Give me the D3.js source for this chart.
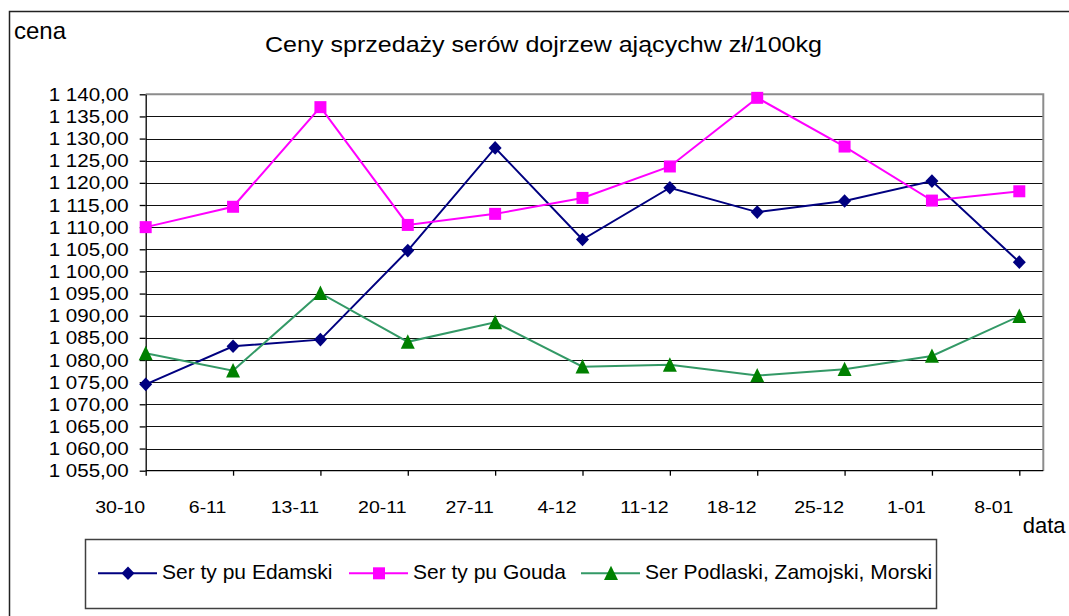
<!DOCTYPE html>
<html lang="pl">
<head>
<meta charset="utf-8">
<title>Ceny sprzedaży serów dojrzewających</title>
<style>
  body { margin: 0; background: #fff; }
  svg text { font-family: "Liberation Sans", Arial, sans-serif; fill: #000; }
  .grid line { stroke: #111; stroke-width: 1; shape-rendering: crispEdges; }
  .axis path, .axis line { stroke: #000; stroke-width: 1.3; }
  .series path.line { fill: none; stroke-width: 2; }
</style>
</head>
<body>
<div id="chart"></div>
<script src="https://cdn.jsdelivr.net/npm/d3@7"></script>
<script>
// dane
var dates = ["30-10", "6-11", "13-11", "20-11", "27-11", "4-12", "11-12", "18-12", "25-12", "1-01", "8-01"];
var edamski = [1074.5, 1083.1, 1084.6, 1104.7, 1127.9, 1107.2, 1118.9, 1113.4, 1115.9, 1120.4, 1102.1];
var gouda = [1110.0, 1114.6, 1137.1, 1110.5, 1113.0, 1116.6, 1123.7, 1139.2, 1128.2, 1116.0, 1118.1];
var podlaski = [1081.5, 1077.6, 1095.1, 1084.1, 1088.5, 1078.5, 1078.9, 1076.5, 1077.9, 1080.9, 1089.9];
var yTicks = [1055, 1060, 1065, 1070, 1075, 1080, 1085, 1090, 1095, 1100, 1105, 1110, 1115, 1120, 1125, 1130, 1135, 1140];
var seriesNames = ["Ser ty pu Edamski", "Ser ty pu Gouda", "Ser Podlaski, Zamojski, Morski"];

var W = 1069, H = 616,
    plot = {left: 145.7, right: 1043.3, top: 94.3, bottom: 470.7},
    lastX = 1019.3;

var series = [
  {name: seriesNames[0], values: edamski, line: "#000080", fill: "#000080", shape: "diamond", lx: 98},
  {name: seriesNames[1], values: gouda, line: "#ff00ff", fill: "#ff00ff", shape: "square", lx: 349},
  {name: seriesNames[2], values: podlaski, line: "#339966", fill: "#008000", shape: "triangle", lx: 581}
];

function markerPath(shape) {
  if (shape == "diamond") return "M0,-6.8L6.5,0L0,6.8L-6.5,0Z";
  if (shape == "square") return "M-6,-6H6V6H-6Z";
  return "M0,-7.6L7,6.8H-7Z";
}

var svg = d3.select("#chart").append("svg")
    .attr("width", W)
    .attr("height", H);

// ramka całego wykresu
svg.append("rect")
   .attr("x", 9.5).attr("y", 11.5)
   .attr("width", 1100).attr("height", 700)
   .attr("fill", "none")
   .attr("stroke", "#222")
   .attr("stroke-width", 1.5);

var x = d3.scalePoint().domain(dates).range([plot.left, lastX]);
var y = d3.scaleLinear().domain([1055, 1140]).range([plot.bottom, plot.top]);

var plFormat = d3.formatLocale({decimal: ",", thousands: " ", grouping: [3], currency: ["", ""]}).format(",.2f");

// linie siatki
svg.append("g").attr("class", "grid")
   .selectAll("line")
   .data(yTicks.slice(1, -1))
   .enter().append("line")
   .attr("x1", plot.left).attr("x2", plot.right)
   .attr("y1", function(d){ return Math.round(y(d)) + 0.5; })
   .attr("y2", function(d){ return Math.round(y(d)) + 0.5; });

// obramowanie obszaru wykresu (szare)
svg.append("path")
   .attr("d", "M" + plot.left + "," + plot.top + "H" + plot.right + "V" + plot.bottom)
   .attr("fill", "none")
   .attr("stroke", "#8c8c8c")
   .attr("stroke-width", 2);

// oś Y
var yAxis = svg.append("g")
   .attr("class", "axis")
   .attr("transform", "translate(" + plot.left + ",0)")
   .call(d3.axisLeft(y).tickValues(yTicks).tickFormat(plFormat).tickSize(6).tickSizeOuter(0).tickPadding(11));
yAxis.selectAll("text")
   .style("font-size", "19px")
   .attr("textLength", 80)
   .attr("lengthAdjust", "spacingAndGlyphs");

// oś X
var xAxis = svg.append("g")
   .attr("class", "axis")
   .attr("transform", "translate(0," + plot.bottom + ")")
   .call(d3.axisBottom(x).tickSize(5).tickSizeOuter(0).tickPadding(25.6));
xAxis.select(".domain").attr("d", "M" + plot.left + ",0H" + plot.right);
xAxis.selectAll("text")
   .style("font-size", "16px")
   .attr("x", -26 / 1.22)
   .attr("transform", "scale(1.22,1)");

// serie
var line = d3.line()
   .x(function(d, i){ return x(dates[i]); })
   .y(function(d){ return y(d); });

var groups = svg.selectAll("g.series")
   .data(series)
   .enter().append("g")
   .attr("class", "series");

groups.append("path")
   .attr("class", "line")
   .attr("d", function(s){ return line(s.values); })
   .attr("stroke", function(s){ return s.line; });

groups.each(function(s){
  d3.select(this).selectAll("path.mark")
    .data(s.values)
    .enter().append("path")
    .attr("class", "mark")
    .attr("d", markerPath(s.shape))
    .attr("fill", s.fill)
    .attr("transform", function(d, i){ return "translate(" + x(dates[i]) + "," + y(d) + ")"; });
});

// teksty
svg.append("text")
   .attr("x", 14).attr("y", 39.3)
   .style("font-size", "24px")
   .text("cena");

svg.append("text")
   .attr("x", 265).attr("y", 52.3)
   .style("font-size", "22.5px")
   .attr("textLength", 557)
   .attr("lengthAdjust", "spacingAndGlyphs")
   .text("Ceny sprzedaży serów dojrzew ającychw zł/100kg");

svg.append("text")
   .attr("x", 1022.7).attr("y", 533.3)
   .style("font-size", "22px")
   .text("data");

// legenda
var legend = svg.append("g");
legend.append("rect")
   .attr("x", 85.5).attr("y", 539.5)
   .attr("width", 851).attr("height", 69)
   .attr("fill", "#fff")
   .attr("stroke", "#404040")
   .attr("stroke-width", 1.5);

var items = legend.selectAll("g.item")
   .data(series)
   .enter().append("g")
   .attr("class", "item")
   .attr("transform", function(s){ return "translate(" + s.lx + ",573.3)"; });

items.append("line")
   .attr("x1", 0).attr("x2", 59)
   .attr("stroke", function(s){ return s.line; })
   .attr("stroke-width", 2);

items.append("path")
   .attr("d", function(s){ return markerPath(s.shape); })
   .attr("fill", function(s){ return s.fill; })
   .attr("transform", "translate(30,0)");

items.append("text")
   .attr("x", 64).attr("y", 6)
   .style("font-size", "21px")
   .text(function(s){ return s.name; });
</script>
</body>
</html>
